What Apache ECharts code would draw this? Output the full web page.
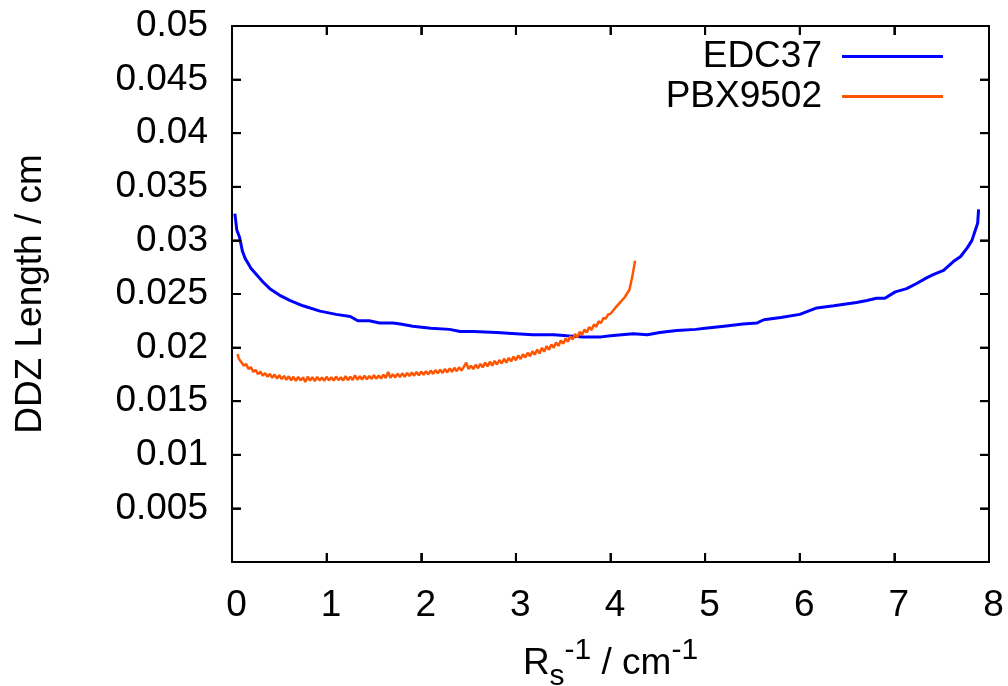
<!DOCTYPE html>
<html>
<head>
<meta charset="utf-8">
<script src="https://cdn.jsdelivr.net/npm/echarts@6/dist/echarts.min.js"></script>
<style>html,body{margin:0;padding:0;background:#fff}.c{position:absolute;left:0;top:0;width:1008px;height:686px}#f{pointer-events:none}</style>
</head>
<body>
<div class="c" id="c"></div>
<div class="c" id="f"></div>
<script>
const seriesNames = ['EDC37', 'PBX9502'];
const xTicks = [0, 1, 2, 3, 4, 5, 6, 7, 8];
const yTicks = [0, 0.005, 0.01, 0.015, 0.02, 0.025, 0.03, 0.035, 0.04, 0.045, 0.05];

const edc37X = [0.03,0.04,0.05,0.08,0.11,0.14,0.16,0.20,0.26,0.33,0.40,0.50,0.61,0.75,0.93,1.10,1.25,1.33,1.45,1.56,1.70,1.78,1.91,2.10,2.30,2.41,2.55,2.80,3.00,3.18,3.40,3.54,3.71,3.90,4.00,4.24,4.39,4.52,4.70,4.90,5.00,5.20,5.40,5.55,5.62,5.80,6.00,6.18,6.36,6.60,6.71,6.81,6.90,7.01,7.13,7.24,7.34,7.41,7.52,7.62,7.70,7.77,7.82,7.85,7.88,7.89];
const edc37Y = [0.0325,0.0318,0.0310,0.0303,0.0290,0.0283,0.0280,0.0274,0.0268,0.0261,0.0255,0.0249,0.0244,0.0239,0.0234,0.0231,0.0229,0.0225,0.0225,0.0223,0.0223,0.0222,0.0220,0.0218,0.0217,0.0215,0.0215,0.0214,0.0213,0.0212,0.0212,0.0211,0.0210,0.0210,0.0211,0.0213,0.0212,0.0214,0.0216,0.0217,0.0218,0.0220,0.0222,0.0223,0.0226,0.0228,0.0231,0.0237,0.0239,0.0242,0.0244,0.0246,0.0246,0.0252,0.0255,0.0260,0.0265,0.0268,0.0272,0.0280,0.0285,0.0293,0.0300,0.0308,0.0316,0.0329];

const pbxX = [0.06,0.07,0.085,
  0.100,0.125,0.150,0.175,0.200,0.225,0.250,0.275,0.300,0.325,0.350,0.375,0.400,0.425,0.450,0.475,
  0.500,0.525,0.550,0.575,0.600,0.625,0.650,0.675,0.700,0.725,0.750,0.775,0.800,0.825,0.850,0.875,
  0.900,0.925,0.950,0.975,1.000,1.025,1.050,1.075,1.100,1.125,1.150,1.175,1.200,1.225,1.250,1.275,
  1.300,1.325,1.350,1.375,1.400,1.425,1.450,1.475,1.500,1.525,1.550,1.575,1.600,1.625,1.650,1.675,
  1.700,1.725,1.750,1.775,1.800,1.825,1.850,1.875,1.900,1.925,1.950,1.975,2.000,2.025,2.050,2.075,
  2.100,2.125,2.150,2.175,2.200,2.225,2.250,2.275,2.300,2.325,2.350,2.375,2.400,2.425,2.450,2.475,
  2.500,2.525,2.550,2.575,2.600,2.625,2.650,2.675,2.700,2.725,2.750,2.775,2.800,2.825,2.850,2.875,
  2.900,2.925,2.950,2.975,3.000,3.025,3.050,3.075,3.100,3.125,3.150,3.175,3.200,3.225,3.250,3.275,
  3.300,3.325,3.350,3.375,3.400,3.425,3.450,3.475,3.500,3.525,3.550,3.575,3.600,3.625,3.650,3.675,
  3.700,3.725,3.750,3.775,3.800,3.825,3.850,3.875,3.900,3.925,3.950,3.975,4.000,
  4.05,4.10,4.15,4.20,4.23,4.26];
const pbxY = [0.0194,0.0190,0.0188,
  0.01875,0.01832,0.01846,0.01800,0.01818,0.01774,0.01792,0.01752,0.01776,0.01738,0.01762,0.01728,0.01755,0.01718,0.01748,0.01712,
  0.01742,0.01706,0.01736,0.01700,0.01732,0.01694,0.01728,0.01690,0.01726,0.01694,0.01722,0.01680,0.01728,0.01692,0.01724,0.01688,
  0.01726,0.01694,0.01722,0.01690,0.01728,0.01694,0.01724,0.01692,0.01730,0.01696,0.01724,0.01694,0.01734,0.01696,0.01728,0.01698,
  0.01742,0.01700,0.01732,0.01702,0.01738,0.01704,0.01736,0.01708,0.01742,0.01710,0.01740,0.01712,0.01748,0.01716,0.01772,0.01718,
  0.01752,0.01722,0.01756,0.01726,0.01760,0.01728,0.01764,0.01734,0.01768,0.01738,0.01772,0.01742,0.01776,0.01746,0.01780,0.01750,
  0.01786,0.01754,0.01790,0.01760,0.01794,0.01764,0.01800,0.01768,0.01806,0.01774,0.01812,0.01780,0.01816,0.01786,0.01820,0.01860,
  0.01800,0.01830,0.01800,0.01840,0.01808,0.01848,0.01816,0.01860,0.01824,0.01868,0.01832,0.01876,0.01842,0.01884,0.01852,0.01896,
  0.01860,0.01904,0.01872,0.01916,0.01882,0.01926,0.01894,0.01938,0.01908,0.01952,0.01920,0.01966,0.01934,0.01982,0.01946,0.01998,
  0.01962,0.02014,0.01980,0.02030,0.01998,0.02048,0.02016,0.02066,0.02036,0.02086,0.02054,0.02106,0.02076,0.02126,0.02096,0.02148,
  0.02118,0.02168,0.02140,0.02192,0.02164,0.02216,0.02194,0.02246,0.02230,0.02276,0.02270,0.02310,0.02316,
  0.0237,0.0242,0.0247,0.0254,0.0266,0.0281];

const FONT = '"Liberation Sans", Arial, sans-serif';
const FS = 37;
const TICK_LEN = 9;
const zip = (xs, ys) => xs.map((x, i) => [x, ys[i]]);
const GRID = {left: 232, top: 26, right: 19, bottom: 124, outerBoundsMode: 'none'};
const mkLine = () => ({show: true, onZero: false, lineStyle: {color: '#000', width: 2}});
const mkTick = () => ({show: true, inside: true, length: TICK_LEN, lineStyle: {color: '#141414', width: 2}});
const xRange = {min: xTicks[0], max: xTicks[xTicks.length - 1], interval: 1};
const yRange = {min: yTicks[0], max: yTicks[yTicks.length - 1], interval: 0.005};

const chart = echarts.init(document.getElementById('c'));
chart.setOption({
  animation: false,
  grid: GRID,
  legend: {
    data: seriesNames,
    right: 60, top: 33, orient: 'vertical', align: 'right',
    icon: 'rect', itemWidth: 101, itemHeight: 3, itemGap: 3,
    textStyle: {fontFamily: FONT, fontSize: FS, color: '#000', padding: [0, 15, 0, 0]}
  },
  xAxis: [{
    type: 'value', position: 'bottom', ...xRange,
    axisLine: mkLine(), axisTick: mkTick(), splitLine: {show: false},
    axisLabel: {fontFamily: FONT, fontSize: FS, color: '#000', margin: 25, padding: [0, 0, 0, 9]},
    name: '{r|R}{s|s}{p|-1}{r| / cm}{p|-1}', nameLocation: 'middle', nameGap: 74,
    nameTextStyle: {
      fontFamily: FONT, color: '#000',
      rich: {
        r: {fontFamily: FONT, fontSize: FS, color: '#000', lineHeight: 56, verticalAlign: 'middle'},
        s: {fontFamily: FONT, fontSize: 30, color: '#000', lineHeight: 56, verticalAlign: 'bottom'},
        p: {fontFamily: FONT, fontSize: 30, color: '#000', lineHeight: 56, verticalAlign: 'top'}
      }
    }
  }, {
    type: 'value', position: 'top', ...xRange,
    axisLine: mkLine(), axisTick: mkTick(), axisLabel: {show: false}, splitLine: {show: false}
  }],
  yAxis: [{
    type: 'value', position: 'left', ...yRange,
    axisLine: mkLine(), axisTick: mkTick(), splitLine: {show: false},
    axisLabel: {fontFamily: FONT, fontSize: FS, color: '#000', margin: 24,
      formatter: v => (Math.abs(v) < 1e-9 ? '' : String(+v.toFixed(3)))},
    name: 'DDZ Length / cm', nameLocation: 'middle', nameGap: 183,
    nameTextStyle: {fontFamily: FONT, fontSize: FS, color: '#000'}
  }, {
    type: 'value', position: 'right', ...yRange,
    axisLine: mkLine(), axisTick: mkTick(), axisLabel: {show: false}, splitLine: {show: false}
  }],
  series: [{
    name: seriesNames[0], type: 'line',
    data: zip(edc37X, edc37Y), showSymbol: false, symbol: 'none',
    lineStyle: {color: '#0000ff', width: 3}, itemStyle: {color: '#0000ff'}
  }, {
    name: seriesNames[1], type: 'line',
    data: zip(pbxX, pbxY), showSymbol: false, symbol: 'none',
    lineStyle: {color: '#ff5500', width: 2.5}, itemStyle: {color: '#ff5500'}
  }]
});

// frame layer on top: border plus inward ticks on all four sides, placed through the axes' scales
const tickStyle = {stroke: '#000', lineWidth: 2};
const yLo = yTicks[0], yHi = yTicks[yTicks.length - 1];
const xLo = xTicks[0], xHi = xTicks[xTicks.length - 1];
const frame = echarts.init(document.getElementById('f'));
frame.setOption({
  animation: false,
  grid: GRID,
  xAxis: [
    {type: 'value', position: 'bottom', ...xRange, axisLine: mkLine(), axisTick: mkTick(), axisLabel: {show: false}, splitLine: {show: false}},
    {type: 'value', position: 'top', ...xRange, axisLine: mkLine(), axisTick: mkTick(), axisLabel: {show: false}, splitLine: {show: false}}
  ],
  yAxis: [
    {type: 'value', position: 'left', ...yRange, axisLine: mkLine(), axisTick: mkTick(), axisLabel: {show: false}, splitLine: {show: false}},
    {type: 'value', position: 'right', ...yRange, axisLine: mkLine(), axisTick: mkTick(), axisLabel: {show: false}, splitLine: {show: false}}
  ],
  series: [{
    type: 'custom', xAxisIndex: 0, yAxisIndex: 0, silent: true, clip: false,
    data: xTicks.map(v => [v, yLo]),
    renderItem: (params, api) => {
      const b = api.coord([api.value(0), yLo]);
      const t = api.coord([api.value(0), yHi]);
      return {type: 'group', children: [
        {type: 'line', shape: {x1: b[0], y1: b[1], x2: b[0], y2: b[1] - TICK_LEN}, style: tickStyle},
        {type: 'line', shape: {x1: t[0], y1: t[1], x2: t[0], y2: t[1] + TICK_LEN}, style: tickStyle}
      ]};
    }
  }, {
    type: 'custom', xAxisIndex: 0, yAxisIndex: 0, silent: true, clip: false,
    data: yTicks.map(v => [xLo, v]),
    renderItem: (params, api) => {
      const l = api.coord([xLo, api.value(1)]);
      const r = api.coord([xHi, api.value(1)]);
      return {type: 'group', children: [
        {type: 'line', shape: {x1: l[0], y1: l[1], x2: l[0] + TICK_LEN, y2: l[1]}, style: tickStyle},
        {type: 'line', shape: {x1: r[0], y1: r[1], x2: r[0] - TICK_LEN, y2: r[1]}, style: tickStyle}
      ]};
    }
  }]
});
</script>
</body>
</html>
